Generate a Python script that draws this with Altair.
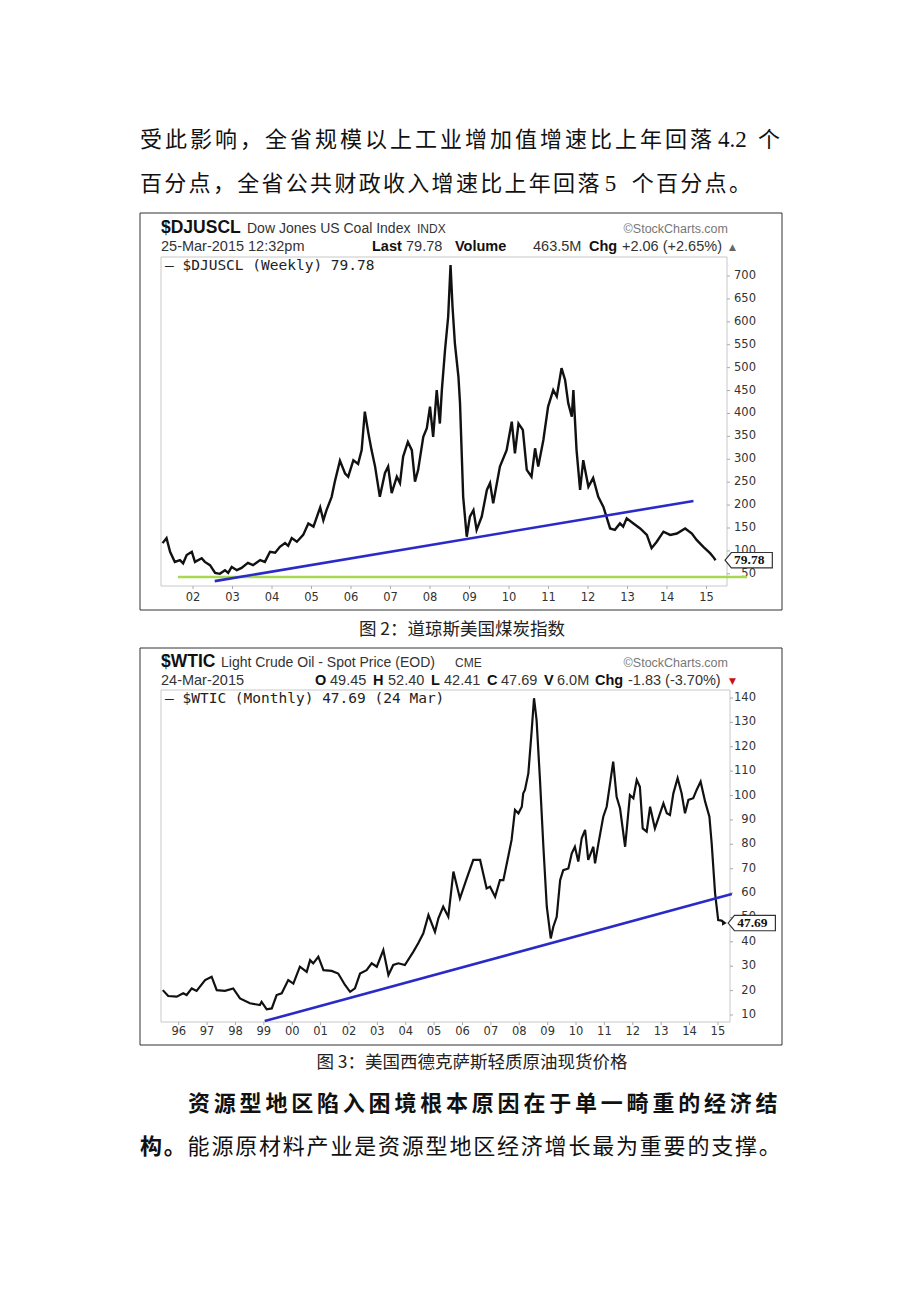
import altair as alt
import pandas as pd

# ---------------- data ----------------
COAL_YEAR = [2001.23, 2001.33, 2001.42, 2001.54, 2001.67, 2001.75, 2001.84, 2001.97, 2002.05, 2002.22,
             2002.30, 2002.43, 2002.56, 2002.68, 2002.81, 2002.89, 2002.98, 2003.11, 2003.23, 2003.39,
             2003.52, 2003.70, 2003.82, 2003.95, 2004.08, 2004.20, 2004.33, 2004.41, 2004.50, 2004.63,
             2004.79, 2004.92, 2005.05, 2005.22, 2005.30, 2005.38, 2005.51, 2005.59, 2005.72, 2005.85,
             2005.93, 2006.06, 2006.18, 2006.27, 2006.35, 2006.44, 2006.52, 2006.61, 2006.73, 2006.86,
             2006.94, 2007.03, 2007.16, 2007.24, 2007.32, 2007.44, 2007.54, 2007.62, 2007.70, 2007.83,
             2007.92, 2008.00, 2008.08, 2008.17, 2008.25, 2008.30, 2008.38, 2008.46, 2008.52, 2008.57,
             2008.63, 2008.72, 2008.76, 2008.84, 2008.93, 2009.01, 2009.10, 2009.18, 2009.31, 2009.44,
             2009.52, 2009.60, 2009.77, 2009.94, 2010.07, 2010.15, 2010.24, 2010.35, 2010.45, 2010.57,
             2010.66, 2010.74, 2010.87, 2010.99, 2011.12, 2011.21, 2011.33, 2011.42, 2011.50, 2011.59,
             2011.63, 2011.71, 2011.80, 2011.88, 2012.01, 2012.13, 2012.26, 2012.39, 2012.56, 2012.68,
             2012.81, 2012.89, 2012.98, 2013.15, 2013.32, 2013.49, 2013.61, 2013.74, 2013.91, 2014.08,
             2014.25, 2014.46, 2014.63, 2014.75, 2014.92, 2015.09, 2015.16, 2015.23]
COAL_VALUE = [117, 128, 98, 76, 80, 73, 91, 98, 76, 84,
              76, 69, 52, 50, 58, 52, 65, 58, 63, 74,
              69, 80, 76, 98, 96, 109, 117, 111, 128, 120,
              135, 160, 153, 195, 167, 189, 218, 251, 297, 269,
              262, 298, 290, 320, 404, 357, 320, 284, 218, 270,
              284, 226, 262, 248, 306, 338, 320, 251, 277, 349,
              368, 415, 349, 451, 378, 451, 538, 611, 724, 633,
              553, 480, 422, 218, 131, 175, 189, 146, 175, 233,
              248, 204, 284, 320, 382, 313, 378, 364, 277, 262,
              324, 284, 342, 415, 451, 437, 499, 473, 422, 393,
              451, 320, 233, 298, 240, 259, 218, 196, 149, 146,
              160, 153, 171, 160, 149, 135, 106, 120, 142, 135,
              138, 149, 138, 124, 109, 95, 88, 79.78]
COAL_TREND_YEAR = [2002.55, 2014.67]
COAL_TREND_VALUE = [34, 209]
COAL_SUPPORT_YEAR = [2001.62, 2016.03]
COAL_SUPPORT_VALUE = [43, 43]
COAL_TAG_YEAR = 2015.47
COAL_TICKS_X = list(range(2002, 2016))
COAL_TICKS_Y = list(range(50, 701, 50))

OIL_YEAR = [1995.44, 1995.63, 1995.93, 1996.16, 1996.28, 1996.46, 1996.63, 1996.93, 1997.16, 1997.34,
            1997.63, 1997.92, 1998.16, 1998.51, 1998.86, 1998.92, 1999.10, 1999.28, 1999.45, 1999.63,
            1999.86, 2000.04, 2000.27, 2000.51, 2000.63, 2000.74, 2000.92, 2001.10, 2001.39, 2001.62,
            2001.86, 2002.04, 2002.21, 2002.39, 2002.62, 2002.80, 2002.98, 2003.21, 2003.39, 2003.56,
            2003.74, 2003.97, 2004.27, 2004.44, 2004.62, 2004.80, 2005.03, 2005.15, 2005.32, 2005.50,
            2005.68, 2005.91, 2006.15, 2006.38, 2006.62, 2006.85, 2006.97, 2007.15, 2007.32, 2007.44,
            2007.61, 2007.73, 2007.85, 2007.97, 2008.09, 2008.14, 2008.20, 2008.32, 2008.44, 2008.52,
            2008.61, 2008.73, 2008.85, 2008.97, 2009.11, 2009.20, 2009.32, 2009.44, 2009.55, 2009.73,
            2009.85, 2009.96, 2010.08, 2010.20, 2010.32, 2010.43, 2010.61, 2010.67, 2010.79, 2010.96,
            2011.08, 2011.20, 2011.31, 2011.43, 2011.55, 2011.73, 2011.84, 2011.90, 2012.02, 2012.14,
            2012.25, 2012.35, 2012.49, 2012.61, 2012.78, 2012.96, 2013.08, 2013.20, 2013.31, 2013.43,
            2013.58, 2013.72, 2013.84, 2013.96, 2014.13, 2014.25, 2014.39, 2014.55, 2014.70, 2014.78,
            2014.90, 2015.01, 2015.13, 2015.23]
OIL_VALUE = [20.2, 17.8, 17.5, 18.9, 18.2, 20.9, 19.9, 24.3, 25.7, 20.2,
             19.9, 20.9, 16.8, 14.8, 14.1, 15.4, 12.3, 12.7, 18.2, 18.9,
             24.3, 22.9, 29.8, 27.7, 32.5, 31.2, 33.9, 28.4, 28.1, 27.0,
             22.3, 19.5, 20.9, 27.0, 28.4, 31.2, 29.8, 36.6, 26.4, 30.5,
             31.2, 30.5, 36.0, 39.4, 43.5, 51.0, 44.1, 49.6, 54.4, 50.3,
             68.8, 57.8, 66.0, 73.6, 73.6, 61.9, 62.6, 58.5, 65.3, 65.3,
             74.9, 81.8, 94.1, 92.7, 95.4, 100.9, 102.3, 109.1, 126.9, 139.9,
             131.0, 106.4, 79.0, 54.4, 41.4, 46.2, 50.3, 65.3, 69.4, 70.1,
             76.3, 79.0, 72.9, 82.5, 85.9, 73.6, 79.0, 72.2, 80.4, 91.3,
             95.4, 105.0, 113.9, 99.5, 94.8, 79.0, 92.7, 100.2, 98.9, 106.4,
             103.6, 86.5, 85.2, 95.4, 86.5, 92.7, 96.8, 92.7, 92.0, 100.9,
             107.1, 100.9, 92.7, 98.2, 98.9, 102.3, 105.7, 97.5, 91.3, 80.4,
             59.9, 48.9, 48.7, 47.69]
OIL_TREND_YEAR = [1999.03, 2015.49]
OIL_TREND_VALUE = [7.5, 59.6]
OIL_TAG_YEAR = 2015.36
OIL_TICKS_X = list(range(1996, 2016))
OIL_TICKS_Y = list(range(10, 141, 10))

PARA1_L1 = [("受此影响，全省规模以上工业增加值增速比上年回落", "cjk"), ("4.2", "latin"), ("个", "cjk")]
PARA1_L2 = [("百分点，全省公共财政收入增速比上年回落", "cjk"), ("5", "latin"), ("个百分点。", "cjk")]
PARA2_L1 = [("资源型地区陷入困境根本原因在于单一畸重的经济结", "cjkb")]
PARA2_L2 = [("构。", "cjkb"), ("能源原材料产业是资源型地区经济增长最为重要的支撑。", "cjk")]
CAPTION_COAL = "图 2：道琼斯美国煤炭指数"
CAPTION_OIL = "图 3：美国西德克萨斯轻质原油现货价格"

# ---------------- layout helpers ----------------
W, H = 904, 1286
OX, OY = 8, 8


def px(x):
    return x - OX


def py(y):
    return y - OY


DUMMY = pd.DataFrame({"k": [0]})
SANS = "Liberation Sans"
CJK = "Noto Sans CJK SC"
AXFONT = "DejaVu Sans"


def label(text, x, y, size, weight="normal", color="#222", font=SANS, align="left"):
    return alt.Chart(DUMMY).mark_text(
        text=text, font=font, fontSize=size, fontWeight=weight, color=color,
        align=align, baseline="middle"
    ).encode(x=alt.value(px(x)), y=alt.value(py(y)))


def box(x1, y1, x2, y2, color, width=1.0):
    return alt.Chart(DUMMY).mark_rect(
        fill="transparent", stroke=color, strokeWidth=width
    ).encode(x=alt.value(px(x1)), x2=alt.value(px(x2)), y=alt.value(py(y1)), y2=alt.value(py(y2)))


def layout_line(segments, x0, y, pitch, latin_adv, rows):
    x = x0
    for text, kind in segments:
        if kind == "latin":
            rows["latin"].append({"ch": text, "px": px(x + 3), "py": py(y)})
            x += latin_adv
        else:
            for ch in text:
                rows[kind].append({"ch": ch, "px": px(x), "py": py(y)})
                x += pitch


rows = {"cjk": [], "cjkb": [], "latin": []}
layout_line(PARA1_L1, 140, 140, 25.0, 43, rows)
layout_line(PARA1_L2, 140, 184, 24.3, 30, rows)
layout_line(PARA2_L1, 188, 1104, 25.8, 30, rows)
layout_line(PARA2_L2, 140, 1147, 23.8, 30, rows)


def char_layer(kind, font, weight):
    df = pd.DataFrame(rows[kind])
    return alt.Chart(df).mark_text(
        font=font, fontSize=22, fontWeight=weight, color="#111", align="left", baseline="middle"
    ).encode(
        x=alt.X("px:Q", scale=None, axis=None),
        y=alt.Y("py:Q", scale=None, axis=None),
        text="ch:N",
    )


def x_labels(ticks, xscale, y_label, y_axis):
    df = pd.DataFrame({"t": ticks, "lab": [str(t)[2:] for t in ticks]})
    txt = alt.Chart(df).mark_text(
        font=AXFONT, fontSize=11.5, color="#333", align="center", baseline="middle"
    ).encode(x=alt.X("t:Q", scale=xscale, axis=None), y=alt.value(py(y_label)), text="lab:N")
    tick = alt.Chart(df).mark_rule(color="#aaa", strokeWidth=1).encode(
        x=alt.X("t:Q", scale=xscale, axis=None), y=alt.value(py(y_axis)), y2=alt.value(py(y_axis + 3)))
    return [tick, txt]


def y_labels(ticks, yscale, x_right, x_axis):
    df = pd.DataFrame({"t": ticks})
    txt = alt.Chart(df).mark_text(
        font=AXFONT, fontSize=11.5, color="#333", align="right", baseline="middle"
    ).encode(x=alt.value(px(x_right)), y=alt.Y("t:Q", scale=yscale, axis=None), text="t:Q")
    tick = alt.Chart(df).mark_rule(color="#aaa", strokeWidth=1).encode(
        y=alt.Y("t:Q", scale=yscale, axis=None), x=alt.value(px(x_axis)), x2=alt.value(px(x_axis + 3)))
    return [tick, txt]


TAG_PATH = "M0,0L0.28,-0.34L2.1,-0.34L2.1,0.34L0.28,0.34Z"

# ---------------- coal chart ----------------
coal_df = pd.DataFrame({"yr": COAL_YEAR, "v": COAL_VALUE})
coal_trend = pd.DataFrame({"yr": COAL_TREND_YEAR, "v": COAL_TREND_VALUE})
coal_support = pd.DataFrame({"yr": COAL_SUPPORT_YEAR, "v": COAL_SUPPORT_VALUE})
coal_tag = pd.DataFrame({"yr": [COAL_TAG_YEAR], "v": [COAL_VALUE[-1]]})

cx = alt.Scale(domain=[2002, 2015], range=[px(193), px(193 + 13 * 39.5)], nice=False, zero=False)
cy = alt.Scale(domain=[150, 700], range=[py(528), py(276)], nice=False, zero=False)

coal_line = alt.Chart(coal_df).mark_line(color="#111", strokeWidth=2.4).encode(
    x=alt.X("yr:Q", scale=cx, axis=None), y=alt.Y("v:Q", scale=cy, axis=None))
coal_support_line = alt.Chart(coal_support).mark_line(color="#a8d850", strokeWidth=2.6).encode(
    x=alt.X("yr:Q", scale=cx, axis=None), y=alt.Y("v:Q", scale=cy, axis=None))
coal_trend_line = alt.Chart(coal_trend).mark_line(color="#2a2ac8", strokeWidth=2.6).encode(
    x=alt.X("yr:Q", scale=cx, axis=None), y=alt.Y("v:Q", scale=cy, axis=None))
coal_tag_shape = alt.Chart(coal_tag).mark_point(
    shape=TAG_PATH, size=2025, filled=True, fill="white", stroke="#333", strokeWidth=1.2, opacity=1
).encode(x=alt.X("yr:Q", scale=cx, axis=None), y=alt.Y("v:Q", scale=cy, axis=None))
coal_tag_text = alt.Chart(coal_tag).mark_text(
    font="Liberation Serif", fontWeight="bold", fontSize=13.5, color="#111",
    align="left", baseline="middle", dx=9
).encode(x=alt.X("yr:Q", scale=cx, axis=None), y=alt.Y("v:Q", scale=cy, axis=None),
         text=alt.Text("v:Q", format=".2f"))

coal = alt.layer(
    *x_labels(COAL_TICKS_X, cx, 598, 586),
    *y_labels(COAL_TICKS_Y, cy, 756, 727),
    coal_line, coal_support_line, coal_trend_line, coal_tag_shape, coal_tag_text,
)

# ---------------- oil chart ----------------
oil_df = pd.DataFrame({"yr": OIL_YEAR, "v": OIL_VALUE})
oil_trend = pd.DataFrame({"yr": OIL_TREND_YEAR, "v": OIL_TREND_VALUE})
oil_last = pd.DataFrame({"yr": [OIL_YEAR[-1]], "v": [OIL_VALUE[-1]]})
oil_tag = pd.DataFrame({"yr": [OIL_TAG_YEAR], "v": [OIL_VALUE[-1]]})

oxs = alt.Scale(domain=[1996, 2015], range=[px(178.7), px(178.7 + 19 * 28.38)], nice=False, zero=False)
oys = alt.Scale(domain=[10, 140], range=[py(1015), py(698)], nice=False, zero=False)

oil_line = alt.Chart(oil_df).mark_line(color="#111", strokeWidth=2.2).encode(
    x=alt.X("yr:Q", scale=oxs, axis=None), y=alt.Y("v:Q", scale=oys, axis=None))
oil_trend_line = alt.Chart(oil_trend).mark_line(color="#2a2ac8", strokeWidth=2.6).encode(
    x=alt.X("yr:Q", scale=oxs, axis=None), y=alt.Y("v:Q", scale=oys, axis=None))
oil_end = alt.Chart(oil_last).mark_point(
    shape="triangle-right", size=30, filled=True, color="#111", opacity=1
).encode(x=alt.X("yr:Q", scale=oxs, axis=None), y=alt.Y("v:Q", scale=oys, axis=None))
oil_tag_shape = alt.Chart(oil_tag).mark_point(
    shape=TAG_PATH, size=2025, filled=True, fill="white", stroke="#333", strokeWidth=1.2, opacity=1
).encode(x=alt.X("yr:Q", scale=oxs, axis=None), y=alt.Y("v:Q", scale=oys, axis=None))
oil_tag_text = alt.Chart(oil_tag).mark_text(
    font="Liberation Serif", fontWeight="bold", fontSize=13.5, color="#111",
    align="left", baseline="middle", dx=9
).encode(x=alt.X("yr:Q", scale=oxs, axis=None), y=alt.Y("v:Q", scale=oys, axis=None),
         text=alt.Text("v:Q", format=".2f"))

oil = alt.layer(
    *x_labels(OIL_TICKS_X, oxs, 1032, 1022),
    *y_labels(OIL_TICKS_Y, oys, 756, 730),
    oil_line, oil_trend_line, oil_end, oil_tag_shape, oil_tag_text,
)

# ---------------- frames ----------------
back = alt.layer(
    box(140, 213, 782, 610, "#333"),
    box(161, 257, 727, 586, "#c8c8c8"),
    box(140, 648, 782, 1045, "#333"),
    box(161, 690, 730, 1022, "#c8c8c8"),
)

# ---------------- texts ----------------
R2 = 14.5
texts = [
    # coal header
    label("$DJUSCL", 161, 228, 17.5, "bold", "#111"),
    label("Dow Jones US Coal Index", 247, 229, 14, color="#333"),
    label("INDX", 417, 229, 12, color="#333"),
    label("©StockCharts.com", 728, 229, 12.5, color="#777", align="right"),
    label("25-Mar-2015 12:32pm", 161, 247, R2, color="#333"),
    label("Last", 372, 247, R2, "bold", "#111"),
    label("79.78", 406, 247, R2, color="#333"),
    label("Volume", 455, 247, R2, "bold", "#111"),
    label("463.5M", 533, 247, R2, color="#333"),
    label("Chg", 589, 247, R2, "bold", "#111"),
    label("+2.06 (+2.65%)", 622, 247, R2, color="#333"),
    label("▲", 729, 247, 9, color="#666", font="DejaVu Sans"),
    label("— $DJUSCL (Weekly) 79.78", 165, 266, 14.5, color="#222", font="DejaVu Sans Mono"),
    # oil header
    label("$WTIC", 161, 662, 17.5, "bold", "#111"),
    label("Light Crude Oil - Spot Price (EOD)", 221, 663, 14, color="#333"),
    label("CME", 455, 663, 12, color="#333"),
    label("©StockCharts.com", 728, 663, 12.5, color="#777", align="right"),
    label("24-Mar-2015", 161, 681, R2, color="#333"),
    label("O", 315, 681, R2, "bold", "#111"),
    label("49.45", 330, 681, R2, color="#333"),
    label("H", 373, 681, R2, "bold", "#111"),
    label("52.40", 388, 681, R2, color="#333"),
    label("L", 431, 681, R2, "bold", "#111"),
    label("42.41", 444, 681, R2, color="#333"),
    label("C", 487, 681, R2, "bold", "#111"),
    label("47.69", 501, 681, R2, color="#333"),
    label("V", 544, 681, R2, "bold", "#111"),
    label("6.0M", 557, 681, R2, color="#333"),
    label("Chg", 595, 681, R2, "bold", "#111"),
    label("-1.83 (-3.70%)", 628, 681, R2, color="#333"),
    label("▼", 729, 681, 9, color="#cc1111", font="DejaVu Sans"),
    label("— $WTIC (Monthly) 47.69 (24 Mar)", 165, 699, 14.5, color="#222", font="DejaVu Sans Mono"),
    # captions
    label(CAPTION_COAL, 462, 630, 17.5, color="#222", font=CJK, align="center"),
    label(CAPTION_OIL, 472, 1063, 17.5, color="#222", font=CJK, align="center"),
    # body text
    char_layer("cjk", CJK, "normal"),
    char_layer("cjkb", CJK, "bold"),
    alt.Chart(pd.DataFrame(rows["latin"])).mark_text(
        font="Liberation Serif", fontSize=23, color="#111", align="left", baseline="middle"
    ).encode(x=alt.X("px:Q", scale=None, axis=None), y=alt.Y("py:Q", scale=None, axis=None), text="ch:N"),
]
front = alt.layer(*texts)

chart = alt.layer(back, coal, oil, front).resolve_scale(
    x="independent", y="independent"
).properties(
    width=W, height=H, autosize=alt.AutoSizeParams(type="none"), padding=0,
    background="white",
).configure_view(stroke=None)

chart.save("out.html", embed_options={"renderer": "svg", "actions": False})
